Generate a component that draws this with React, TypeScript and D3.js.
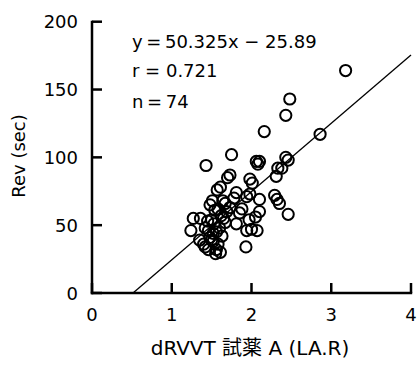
import React from "react";
import * as d3 from "d3";

const xValues: number[] = [
  3.18, 2.48, 2.43, 2.86, 2.16, 2.43, 2.46, 1.75, 1.43, 2.06,
  2.08, 2.10, 1.73, 1.70, 1.61, 1.57, 1.98, 2.01, 1.81, 1.51,
  1.64, 1.67, 1.94, 1.98, 2.10, 2.33, 2.38, 2.31, 2.29, 2.32,
  2.35, 1.54, 1.58, 1.73, 1.69, 1.85, 2.10, 2.46, 1.27, 1.36,
  1.50, 1.53, 1.65, 1.67, 1.81, 1.97, 1.24, 1.42, 1.46, 1.56,
  1.94, 2.00, 2.07, 1.48, 1.50, 1.35, 1.40, 1.63, 1.42, 1.46,
  1.56, 1.61, 1.93, 1.52, 1.55, 1.58, 1.60, 1.62, 1.48, 1.88,
  1.78, 2.05, 1.52, 1.45,
];
const yValues: number[] = [
  164, 143, 131, 117, 119, 100, 98, 102, 94, 97,
  95, 97, 87, 85, 78, 76, 84, 81, 74, 68,
  68, 66, 71, 73, 69, 92, 92, 86, 72, 69,
  66, 61, 62, 63, 60, 59, 60, 58, 55, 55,
  54, 51, 55, 52, 51, 54, 46, 48, 46, 45,
  46, 47, 46, 41, 39, 39, 36, 42, 34, 32,
  32, 30, 34, 38, 29, 36, 48, 57, 65, 62,
  70, 56, 44, 53,
];
const xTicks: number[] = [0, 1, 2, 3, 4];
const yTicks: number[] = [0, 50, 100, 150, 200];
const slope = 50.325;
const intercept = -25.89;
const annotations: string[] = ["y\u2009=\u200950.325x \u2212 25.89", "r = 0.721", "n\u2009=\u200974"];
const xTitle = "dRVVT 試薬 A (LA.R)";
const yTitle = "Rev (sec)";

const FONT = "'DejaVu Sans', 'Noto Sans CJK JP', sans-serif";

export default function App() {
  const W = 418, H = 365;
  const x = d3.scaleLinear().domain([0, 4]).range([92, 411]);
  const y = d3.scaleLinear().domain([0, 200]).range([293, 21.7]);
  const x0 = -intercept / slope;
  const x1 = 4;
  const line = d3.line<number>().x((v) => x(v)).y((v) => y(slope * v + intercept));
  const pts = xValues.map((v, i) => [v, yValues[i]]);
  return (
    <svg width={W} height={H} style={{ position: "absolute", left: 0, top: 0, background: "#fff" }} fontFamily={FONT}>
      <rect width={W} height={H} fill="#fff" />
      <path d={line([x0, x1]) || ""} stroke="#000" strokeWidth={1.3} fill="none" />
      {pts.map((p, i) => (
        <circle key={i} cx={x(p[0])} cy={y(p[1])} r={5.6} fill="none" stroke="#000" strokeWidth={2} />
      ))}
      <line x1={x(0)} x2={x(0)} y1={y(200) - 1} y2={y(0) + 1.2} stroke="#000" strokeWidth={2.5} />
      <line x1={x(0) - 1.2} x2={x(4) + 1.2} y1={y(0)} y2={y(0)} stroke="#000" strokeWidth={2.5} />
      {yTicks.map((t) => (
        <g key={"y" + t}>
          <line x1={x(0)} x2={x(0) + 10} y1={y(t)} y2={y(t)} stroke="#000" strokeWidth={2.5} />
          <text x={78} y={y(t) + 6.5} textAnchor="end" fontSize={18} fill="#000">{t}</text>
        </g>
      ))}
      {xTicks.map((t) => (
        <g key={"x" + t}>
          <line x1={x(t)} x2={x(t)} y1={y(0)} y2={y(0) - 10} stroke="#000" strokeWidth={2.5} />
          <text x={x(t)} y={321} textAnchor="middle" fontSize={18} fill="#000">{t}</text>
        </g>
      ))}
      {annotations.map((a, i) => (
        <text key={i} x={132} y={[48, 77, 108][i]} fontSize={18} fill="#000">{a}</text>
      ))}
      <text x={250} y={355} textAnchor="middle" fontSize={20} fill="#000">{xTitle}</text>
      <text transform={`translate(25,156) rotate(-90)`} textAnchor="middle" fontSize={18} fill="#000">{yTitle}</text>
    </svg>
  );
}
